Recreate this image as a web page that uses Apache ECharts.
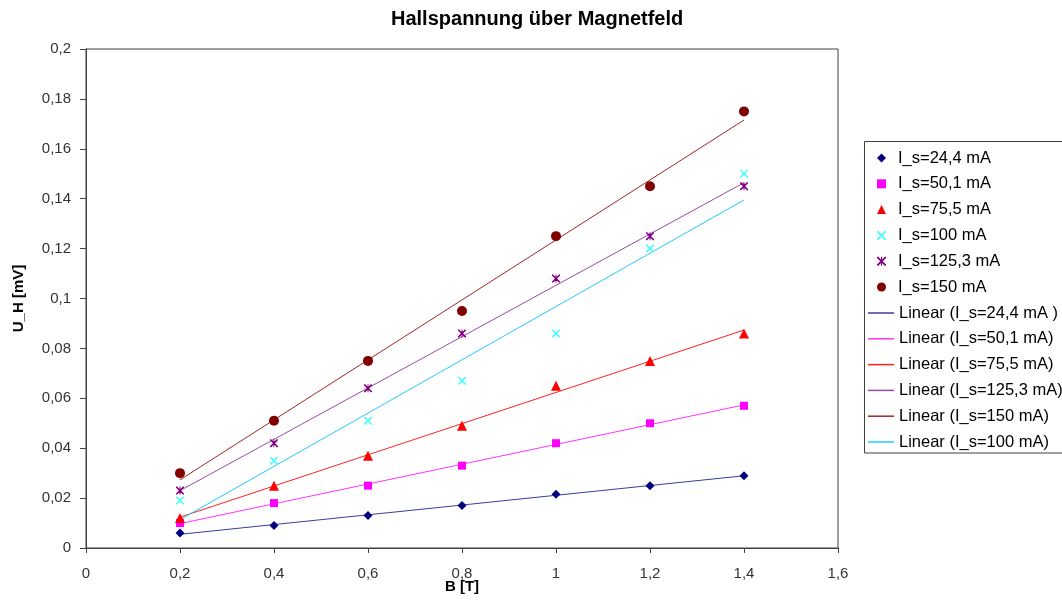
<!DOCTYPE html>
<html>
<head>
<meta charset="utf-8">
<script src="https://cdn.jsdelivr.net/npm/echarts@6/dist/echarts.min.js"></script>
<style>html,body{margin:0;padding:0;background:#fff;}#c{width:1062px;height:601px;}</style>
</head>
<body>
<div id="c"></div>
<script>
var B = [0.2, 0.4, 0.6, 0.8, 1.0, 1.2, 1.4];
var uh_24_4 = [0.006, 0.009, 0.013, 0.017, 0.0215, 0.025, 0.029];
var uh_50_1 = [0.010, 0.018, 0.025, 0.033, 0.042, 0.050, 0.057];
var uh_75_5 = [0.012, 0.025, 0.037, 0.049, 0.065, 0.075, 0.086];
var uh_100 = [0.019, 0.035, 0.051, 0.067, 0.086, 0.120, 0.150];
var uh_125_3 = [0.023, 0.042, 0.064, 0.086, 0.108, 0.125, 0.145];
var uh_150 = [0.030, 0.051, 0.075, 0.095, 0.125, 0.145, 0.175];
var xTicks = ['0', '0,2', '0,4', '0,6', '0,8', '1', '1,2', '1,4', '1,6'];
var yTicks = ['0', '0,02', '0,04', '0,06', '0,08', '0,1', '0,12', '0,14', '0,16', '0,18', '0,2'];

var FONT = '"Liberation Sans", Arial, sans-serif';
var xPath = 'path://M0,0 L1.4,0 L5,3.6 L8.6,0 L10,0 L10,1.4 L6.4,5 L10,8.6 L10,10 L8.6,10 L5,6.4 L1.4,10 L0,10 L0,8.6 L3.6,5 L0,1.4 Z';
var starPath = xPath + ' M4.4,0 L5.6,0 L5.6,10 L4.4,10 Z';

function pts(ys) { return B.map(function (b, i) { return [b, ys[i]]; }); }
// least-squares trendline through the measured points (Excel "Linear" trendline)
function trend(ys) {
  var n = B.length, mx = 0, my = 0, sxy = 0, sxx = 0;
  for (var i = 0; i < n; i++) { mx += B[i] / n; my += ys[i] / n; }
  for (var j = 0; j < n; j++) { sxy += (B[j] - mx) * (ys[j] - my); sxx += (B[j] - mx) * (B[j] - mx); }
  var k = sxy / sxx, d = my - k * mx;
  return [[B[0], k * B[0] + d], [B[n - 1], k * B[n - 1] + d]];
}

var scatterDefs = [
  { name: 'I_s=24,4 mA', data: uh_24_4, symbol: 'diamond', size: 9, color: '#000080' },
  { name: 'I_s=50,1 mA', data: uh_50_1, symbol: 'rect', size: 8, color: '#ff00ff' },
  { name: 'I_s=75,5 mA', data: uh_75_5, symbol: 'triangle', size: 10, color: '#ff0000' },
  { name: 'I_s=100 mA', data: uh_100, symbol: xPath, size: 8, color: '#44ffff' },
  { name: 'I_s=125,3 mA', data: uh_125_3, symbol: starPath, size: 8, color: '#800080' },
  { name: 'I_s=150 mA', data: uh_150, symbol: 'circle', size: 10, color: '#800000' }
];
var lineDefs = [
  { name: 'Linear (I_s=24,4 mA )', data: uh_24_4, color: '#3c3ca0' },
  { name: 'Linear (I_s=50,1 mA)', data: uh_50_1, color: '#ff33ff' },
  { name: 'Linear (I_s=75,5 mA)', data: uh_75_5, color: '#ff2020' },
  { name: 'Linear (I_s=125,3 mA)', data: uh_125_3, color: '#9a48a8' },
  { name: 'Linear (I_s=150 mA)', data: uh_150, color: '#a02828' },
  { name: 'Linear (I_s=100 mA)', data: uh_100, color: '#20ccff' }
];

var series = [];
lineDefs.forEach(function (d) {
  series.push({
    name: d.name, type: 'line', data: trend(d.data), symbol: 'none', silent: true,
    lineStyle: { color: d.color, width: 1 }, itemStyle: { color: d.color }, z: 2, animation: false
  });
});
scatterDefs.forEach(function (d) {
  series.push({
    name: d.name, type: 'scatter', data: pts(d.data), symbol: d.symbol, symbolSize: d.size,
    itemStyle: { color: d.color, opacity: 1 }, z: 3, animation: false
  });
});

var chart = echarts.init(document.getElementById('c'), null, { renderer: 'canvas' });
chart.setOption({
  backgroundColor: '#ffffff',
  animation: false,
  textStyle: { fontFamily: FONT },
  title: {
    text: 'Hallspannung über Magnetfeld', left: 386, top: 4,
    textStyle: { fontFamily: FONT, fontSize: 20, fontWeight: 'bold', color: '#000' }
  },
  graphic: [{
    type: 'rect', shape: { x: 864.5, y: 141.5, width: 220, height: 311.5 },
    style: { fill: '#fff', stroke: '#404040', lineWidth: 1 }, z: -1, silent: true
  }],
  grid: {
    left: 86, right: 224, top: 49, bottom: 53, show: true, outerBoundsMode: 'none', containLabel: false,
    borderColor: '#404040', borderWidth: 1, backgroundColor: 'transparent'
  },
  legend: [{
    orient: 'vertical', left: 877, top: 149, padding: 0,
    itemGap: 7.8, itemWidth: 9, itemHeight: 9,
    textStyle: { fontFamily: FONT, fontSize: 16.5, color: '#000', lineHeight: 18, padding: [0, 0, 0, 7] },
    selectedMode: false,
    data: scatterDefs.map(function (d) { return { name: d.name, icon: d.symbol, itemStyle: { color: d.color } }; })
  }, {
    orient: 'vertical', left: 868, top: 304, padding: 0,
    itemGap: 7.8, itemWidth: 26, itemHeight: 1.5,
    textStyle: { fontFamily: FONT, fontSize: 16.5, color: '#000', lineHeight: 18 },
    selectedMode: false,
    data: lineDefs.map(function (d) { return { name: d.name, icon: 'rect', itemStyle: { color: d.color } }; })
  }],
  xAxis: {
    type: 'value', min: 0, max: 1.6, interval: 0.2,
    name: 'B [T]', nameLocation: 'middle', nameGap: 31, nameMoveOverlap: false,
    nameTextStyle: { fontFamily: FONT, fontSize: 15, fontWeight: 'bold', color: '#000' },
    axisLine: { show: true, lineStyle: { color: '#404040', width: 1 } },
    axisTick: { show: true, length: 5, lineStyle: { color: '#404040' } },
    splitLine: { show: false },
    axisLabel: { fontFamily: FONT, fontSize: 15, color: '#333', margin: 18, formatter: function (v) { return xTicks[Math.round(v / 0.2)]; } }
  },
  yAxis: {
    type: 'value', min: 0, max: 0.2, interval: 0.02,
    name: 'U_H [mV]', nameLocation: 'middle', nameGap: 60, nameRotate: 90, nameMoveOverlap: false,
    nameTextStyle: { fontFamily: FONT, fontSize: 15, fontWeight: 'bold', color: '#000' },
    axisLine: { show: true, lineStyle: { color: '#404040', width: 1 } },
    axisTick: { show: true, length: 6, lineStyle: { color: '#404040' } },
    splitLine: { show: false },
    axisLabel: { fontFamily: FONT, fontSize: 15, color: '#333', margin: 15, formatter: function (v) { return yTicks[Math.round(v / 0.02)]; } }
  },
  series: series
});
</script>
</body>
</html>
